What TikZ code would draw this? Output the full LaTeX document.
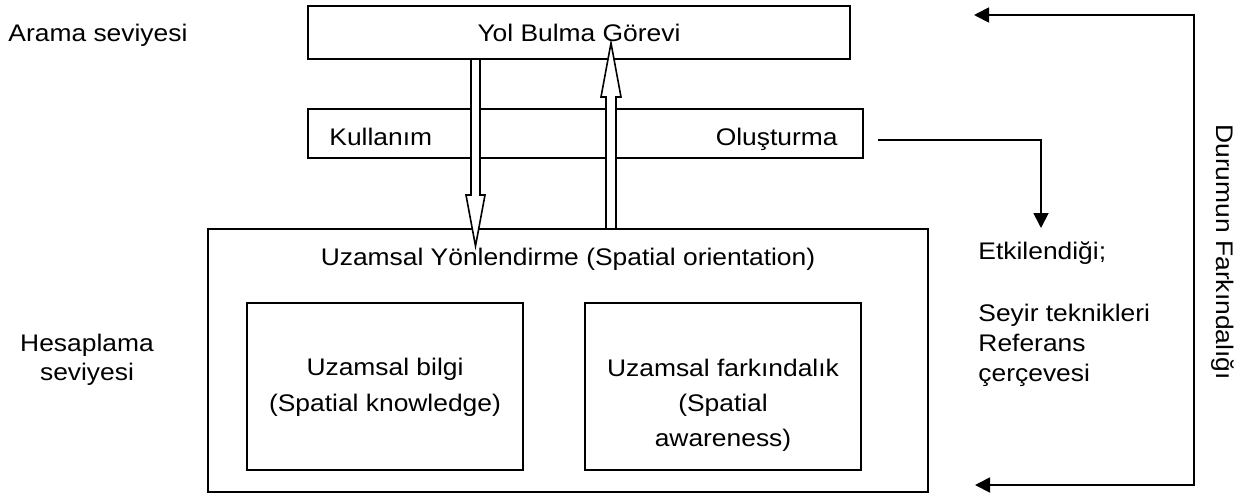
\documentclass[tikz,border=0pt]{standalone}
\usepackage{fontspec}
\setmainfont{Liberation Sans}
\usetikzlibrary{arrows.meta}

\tikzset{
  box/.style={draw, line width=0.9pt, inner sep=0pt},
  lbl/.style={inner sep=0pt, font=\fontsize{12}{14.5}\selectfont, xscale=1.1, transform shape},
  hollow/.style={draw, fill=white, line width=0.8pt, line join=miter},
  flow/.style={line width=0.9pt, -{Triangle[length=7.5pt, width=7.5pt]}}
}

\begin{document}
\begin{tikzpicture}[x=0.5pt, y=-0.5pt]
        \useasboundingbox (0,0) rectangle (1253,494);
        % levels
        \node[lbl, anchor=base west] (arama) at (8,41.5) {Arama seviyesi};
        \node[lbl, align=center] (hesap) at (87,360) {Hesaplama\\seviyesi};
        % task level
        \node[box, minimum width=271pt, minimum height=26.5pt] (gorev) at (579,32.5) {};
        \node[box, minimum width=277.5pt, minimum height=24.5pt] (bant) at (585.5,133.5) {};
        % computation level
        \node[box, minimum width=360pt, minimum height=131.5pt] (yon) at (568,360.5) {};
        \node[box, minimum width=138pt, minimum height=83.5pt] (bilgi) at (385,386.5) {};
        \node[box, minimum width=138pt, minimum height=83.5pt] (fark) at (723,386.5) {};
        % use / build
        \draw[hollow] (471,59) -- (471,195) -- (466,195) -- (475.5,246) -- (485,195) -- (480,195) -- (480,59) -- cycle;
        \draw[hollow] (606,229) -- (606,97) -- (601,97) -- (611,43) -- (621,97) -- (616,97) -- (616,229) -- cycle;
        \node[lbl] (gorevlbl) at (gorev) {Yol Bulma Görevi};
        \node[lbl, anchor=base west] (kul) at (329,145.5) {Kullanım};
        \node[lbl, anchor=base east] (olus) at (838,145.5) {Oluşturma};
        \node[lbl, anchor=base] (yonlbl) at (568,265.5) {Uzamsal Yönlendirme (Spatial orientation)};
        \node[lbl, align=center, anchor=north, font=\fontsize{12}{18}\selectfont] (bilgilbl) at (385,358) {Uzamsal bilgi\\(Spatial knowledge)};
        \node[lbl, align=center, anchor=north, font=\fontsize{12}{17.5}\selectfont] (farklbl) at (723,359) {Uzamsal farkındalık\\(Spatial\\awareness)};
        % influence
        \coordinate (cikis) at ([xshift=7pt, yshift=-3.25pt]bant.east);
        \coordinate (etkiuc) at (1041,228);
        \draw[flow] (cikis) -| (etkiuc);
        \node[lbl, align=left, anchor=north west, font=\fontsize{12}{15}\selectfont] (etki) at (978,241.5) {Etkilendiği;\\[16pt]Seyir teknikleri\\Referans\\çerçevesi};
        % situation awareness loop
        \coordinate (ustuc) at (974,15);
        \coordinate (sagust) at (1194,15);
        \coordinate (sagalt) at (1194,485);
        \coordinate (altuc) at (975,485);
        \draw[line width=0.9pt, {Triangle[length=7.5pt, width=7.5pt]}-{Triangle[length=7.5pt, width=7.5pt]}] (ustuc) -- (sagust) -- (sagalt) -- (altuc);
        \node[rotate=-90, lbl] (durum) at (1223,252) {Durumun Farkındalığı};
\end{tikzpicture}
\end{document}
